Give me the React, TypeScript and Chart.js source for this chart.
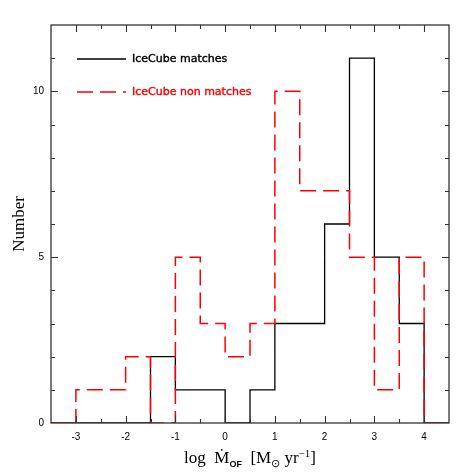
import React, { useEffect, useRef } from "react";
import { Chart, registerables } from "chart.js";

Chart.register(...registerables);

const binEdges = [-3.5, -3, -2.5, -2, -1.5, -1, -0.5, 0, 0.5, 1, 1.5, 2, 2.5, 3, 3.5, 4];
const binEnd = 4.5;
const matches = [0, 0, 0, 0, 2, 1, 1, 0, 1, 3, 3, 6, 11, 5, 3, 0];
const nonMatches = [0, 1, 1, 2, 0, 5, 3, 2, 3, 10, 7, 7, 5, 1, 5, 0];
const xTickLabels = [-3, -2, -1, 0, 1, 2, 3, 4];
const yTickLabels = [0, 5, 10];
const seriesNames = ["IceCube matches", "IceCube non matches"];

const toSteps = (vals: number[]) =>
  binEdges.map((e, i) => ({ x: e, y: vals[i] })).concat([{ x: binEnd, y: 0 }]);

const framePlugin = {
  id: "framePlugin",
  afterDatasetsDraw(chart: any) {
    const { ctx, chartArea: a, scales } = chart;
    const xs = scales.x;
    const ys = scales.y;
    ctx.save();
    ctx.strokeStyle = "#333";
    ctx.lineWidth = 1.3;
    ctx.strokeRect(a.left, a.top, a.right - a.left, a.bottom - a.top);
    ctx.lineWidth = 1.1;
    ctx.beginPath();
    for (let v = -3; v <= 4; v += 0.5) {
      const px = Math.round(xs.getPixelForValue(v)) + 0.5;
      const len = Number.isInteger(v) ? 7 : 4;
      ctx.moveTo(px, a.bottom);
      ctx.lineTo(px, a.bottom - len);
      ctx.moveTo(px, a.top);
      ctx.lineTo(px, a.top + len);
    }
    for (let v = 1; v < 12; v++) {
      const py = Math.round(ys.getPixelForValue(v)) + 0.5;
      const len = v % 5 === 0 ? 7 : 4;
      ctx.moveTo(a.left, py);
      ctx.lineTo(a.left + len, py);
      ctx.moveTo(a.right, py);
      ctx.lineTo(a.right - len, py);
    }
    ctx.stroke();

    // legend
    const lx0 = 77, lx1 = 126;
    const rows = [
      { y: 59, color: "#000", dash: [] as number[], name: seriesNames[0], tc: "#000" },
      { y: 92, color: "#ff0000", dash: [16, 7], name: seriesNames[1], tc: "#ff0000" },
    ];
    ctx.font = "11px 'DejaVu Sans'";
    ctx.textBaseline = "middle";
    ctx.textAlign = "left";
    for (const r of rows) {
      ctx.beginPath();
      ctx.setLineDash(r.dash);
      ctx.strokeStyle = r.color;
      ctx.lineWidth = 1.5;
      ctx.moveTo(lx0, r.y);
      ctx.lineTo(lx1, r.y);
      ctx.stroke();
      ctx.setLineDash([]);
      ctx.fillStyle = r.tc;
      ctx.fillText(r.name, 132, r.y);
      ctx.strokeStyle = r.tc;
      ctx.lineWidth = 0.4;
      ctx.strokeText(r.name, 132, r.y);
    }

    // axis titles
    ctx.fillStyle = "#000";
    ctx.textBaseline = "alphabetic";
    const big = "17px 'Liberation Serif'";
    const small = "11px 'Liberation Serif'";
    const parts = [
      { t: "log  Ṁ", f: big, dy: 0 },
      { t: "OF", f: "bold 9px 'Liberation Sans'", dy: 4 },
      { t: "  [M", f: big, dy: 0 },
      { t: "⊙", f: small, dy: 4 },
      { t: " yr", f: big, dy: 0 },
      { t: "−1", f: small, dy: -6 },
      { t: "]", f: big, dy: 0 },
    ];
    let total = 0;
    for (const p of parts) {
      ctx.font = p.f;
      total += ctx.measureText(p.t).width;
    }
    let x = (a.left + a.right) / 2 - total / 2;
    const baseY = 463;
    for (const p of parts) {
      ctx.font = p.f;
      ctx.fillText(p.t, x, baseY + p.dy);
      x += ctx.measureText(p.t).width;
    }

    ctx.save();
    ctx.translate(24, (a.top + a.bottom) / 2);
    ctx.rotate(-Math.PI / 2);
    ctx.font = "17px 'Liberation Serif'";
    ctx.textAlign = "center";
    ctx.fillText("Number", 0, 0);
    ctx.restore();
    ctx.restore();
  },
};

export default function App() {
  const ref = useRef<HTMLCanvasElement | null>(null);
  useEffect(() => {
    if (!ref.current) return;
    const chart = new Chart(ref.current, {
      type: "line",
      data: {
        datasets: [
          {
            label: seriesNames[1],
            data: toSteps(nonMatches),
            stepped: "before",
            borderColor: "#ff0000",
            borderWidth: 1.5,
            borderDash: [16, 7],
            pointRadius: 0,
            fill: false,
            order: 0,
          },
          {
            label: seriesNames[0],
            data: toSteps(matches),
            stepped: "before",
            borderColor: "#000",
            borderWidth: 1.3,
            pointRadius: 0,
            fill: false,
            order: 1,
          },
        ],
      },
      options: {
        animation: false,
        responsive: false,
        maintainAspectRatio: false,
        layout: { padding: { left: 0, right: 25, top: 25, bottom: 0 } },
        plugins: { legend: { display: false }, tooltip: { enabled: false } },
        scales: {
          x: {
            type: "linear",
            min: -3.5,
            max: 4.5,
            grid: { display: false, drawTicks: false },
            border: { display: false },
            afterFit: (s: any) => { s.height = 51; },
            ticks: {
              stepSize: 0.5,
              autoSkip: false,
              maxRotation: 0,
              padding: 8,
              color: "#000",
              font: { family: "'Liberation Sans'", size: 10 },
              callback: (v: any) => (xTickLabels.includes(Number(v)) ? String(v) : ""),
            },
          },
          y: {
            type: "linear",
            min: 0,
            max: 12,
            grid: { display: false, drawTicks: false },
            border: { display: false },
            afterFit: (s: any) => { s.width = 51; },
            ticks: {
              stepSize: 1,
              autoSkip: false,
              padding: 7,
              color: "#000",
              font: { family: "'Liberation Sans'", size: 10 },
              callback: (v: any) => (yTickLabels.includes(Number(v)) ? String(v) : ""),
            },
          },
        },
      },
      plugins: [framePlugin],
    } as any);
    return () => chart.destroy();
  }, []);
  return (
    <div style={{ position: "fixed", left: 0, top: 0, width: 474, height: 474, background: "#fff" }}>
      <canvas ref={ref} width={474} height={474} style={{ width: 474, height: 474 }} />
    </div>
  );
}
